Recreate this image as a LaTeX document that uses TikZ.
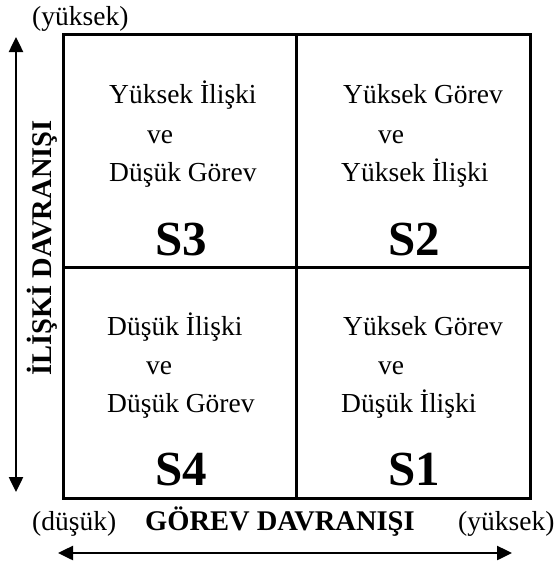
\documentclass[tikz,border=0pt]{standalone}
\usepackage{fontspec}
\setmainfont{Liberation Serif}
\usetikzlibrary{arrows.meta}
\begin{document}
\begin{tikzpicture}[x=1pt,y=-1pt,
  cell/.style={anchor=base west, inner sep=0pt, font=\fontsize{27.5}{27.5}\selectfont},
  code/.style={anchor=base west, inner sep=0pt, font=\fontsize{49}{49}\selectfont\bfseries},
  endlabel/.style={anchor=base west, inner sep=0pt, font=\fontsize{27.5}{27.5}\selectfont},
  axistitle/.style={inner sep=0pt, font=\fontsize{28.5}{28.5}\selectfont\bfseries},
  frame/.style={line width=3pt},
  axis/.style={line width=2.5pt, {Triangle[length=15pt,width=14pt]}-{Triangle[length=15pt,width=14pt]}}
]
\useasboundingbox (0,0) rectangle (558,566);

% grid of the four styles
\draw[frame] (63,34) rectangle (530,498);
\draw[frame] (296,34) -- (296,498);
\draw[frame] (63,267) -- (530,267);

% S3: top left
\node[cell] (s3a) at (109,103) {Yüksek İlişki};
\node[cell] (s3b) at (147,143) {ve};
\node[cell] (s3c) at (109,181) {Düşük Görev};
\node[code] (s3) at (155,255) {S3};

% S2: top right
\node[cell] (s2a) at (343,103) {Yüksek Görev};
\node[cell] (s2b) at (378,143) {ve};
\node[cell] (s2c) at (341,181) {Yüksek İlişki};
\node[code] (s2) at (388,255) {S2};

% S4: bottom left
\node[cell] (s4a) at (107,335) {Düşük İlişki};
\node[cell] (s4b) at (146,374) {ve};
\node[cell] (s4c) at (107,412) {Düşük Görev};
\node[code] (s4) at (155,485) {S4};

% S1: bottom right
\node[cell] (s1a) at (343,335) {Yüksek Görev};
\node[cell] (s1b) at (378,374) {ve};
\node[cell] (s1c) at (341,412) {Düşük İlişki};
\node[code] (s1) at (388,485) {S1};

% axis labels
\node[endlabel] (ytop) at (32,25) {(yüksek)};
\node[endlabel] (xlow) at (32,530) {(düşük)};
\node[endlabel] (xhigh) at (458,530) {(yüksek)};
\node[axistitle, anchor=base west] (xtitle) at (145,530) {GÖREV DAVRANIŞI};
\node[axistitle, anchor=base, rotate=90] (ytitle) at (52,248) {İLİŞKİ DAVRANIŞI};

% axis arrows
\coordinate (ylo) at (16,492);
\coordinate (yhi) at (16,37);
\coordinate (xlo) at (58,553);
\coordinate (xhi) at (512,553);
\draw[axis] (ylo) -- (yhi);
\draw[axis] (xlo) -- (xhi);
\end{tikzpicture}
\end{document}
